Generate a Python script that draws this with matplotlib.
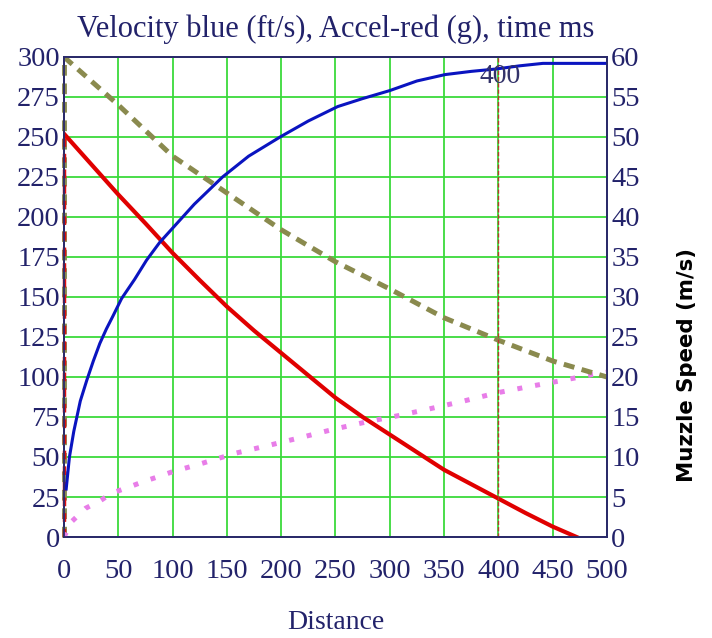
import numpy as np
import matplotlib
matplotlib.use("Agg")
import matplotlib.pyplot as plt
import matplotlib.ticker as plticker

# values
vel_x = [2, 5, 9, 15, 21, 27, 33, 39, 45, 53, 65, 76, 88, 100, 120, 146, 170, 199,
         225, 252, 275, 300, 325, 351, 375, 398, 420, 441, 470, 500]
vel_y = [30, 50, 66, 85, 98, 110, 121, 130, 138, 149, 161, 173, 184, 193, 208, 225,
         238, 250, 260, 269, 274, 279, 285, 289, 291, 292.5, 294.5, 296, 296, 296]

acc_x = [0, 25, 50, 75, 100, 125, 150, 175, 200, 225, 250, 275, 300, 325, 350, 375,
         400, 425, 450, 472]
acc_y = [252, 233, 214, 196, 177.5, 160.5, 144, 129, 115, 101, 87, 75, 64, 53, 42, 33,
         24, 15, 6.5, 0]

speed_x = [0, 50, 100, 150, 200, 250, 300, 350, 400, 450, 500]
speed_y = [300, 270, 238, 215, 192, 172, 155, 137, 123, 110, 100]

time_x = [0, 7, 20, 33, 44, 59, 73, 86, 100, 127, 158, 190, 220, 248, 279, 309,
          336, 367, 398, 428, 457, 487, 500]
time_y = [0, 9.6, 18, 22.5, 27.4, 31, 34.6, 37.5, 40.8, 46, 52.4, 57.5, 62.5, 67.3,
          72, 76, 80, 84.8, 90, 94, 97.6, 101.6, 103]

MARKER_X = 400
MARKER_LABEL = "400"

NAVY = "#22226a"
SERIF = ["Liberation Serif", "DejaVu Serif"]
OLIVE = "#8a8a4e"

fig = plt.figure(figsize=(7.12, 6.38), dpi=100)
ax = fig.add_axes([0.0899, 0.1583, 0.7626, 0.7524])
ax2 = ax.twinx()

ax.set_xlim(0, 500)
ax.set_ylim(0, 300)
ax2.set_ylim(0, 60)
ax.xaxis.set_major_locator(plticker.MultipleLocator(50))
ax.yaxis.set_major_locator(plticker.MultipleLocator(25))
ax2.yaxis.set_major_locator(plticker.MultipleLocator(5))

ax.grid(True, color="#3ada3a", linewidth=1.3)
ax.set_axisbelow(True)

# vertical dashed lines on the left edge
ax.plot([0, 0], [0, speed_y[0]], color=OLIVE, linewidth=3.5, linestyle=(0, (2.2, 1.6)),
        clip_on=False, zorder=3)
ax.plot([0, 0], [0, acc_y[0]], color="#e01010", linewidth=2.5, linestyle=(0, (2.5, 2)),
        clip_on=False, zorder=3)

ax.plot(time_x, time_y, color="#e87de8", linewidth=3.6, linestyle=(0, (1, 2.6)),
        dash_capstyle="butt", zorder=3)
ax.plot(speed_x, speed_y, color=OLIVE, linewidth=3.6, linestyle=(0, (2.2, 1.5)),
        zorder=3)
ax.plot(acc_x, acc_y, color="#e00000", linewidth=3, zorder=4)
ax.plot(vel_x, vel_y, color="#0a14c0", linewidth=2.2, zorder=5)

ax.axvline(MARKER_X, color="#b83a2a", linewidth=1, linestyle=(0, (3, 1.5)), zorder=4)
ax.text(MARKER_X + 2, 288, MARKER_LABEL, ha="center", va="center", color="#33336a",
        fontsize=20, family=SERIF, zorder=6)

for a in (ax, ax2):
    a.tick_params(length=0, labelsize=20.5, labelcolor=NAVY)
    for s in a.spines.values():
        s.set_color("#2a2a6a")
        s.set_linewidth(1.3)
    for lab in a.get_yticklabels() + a.get_xticklabels():
        lab.set_family(SERIF)
ax.tick_params(axis="y", pad=3)
ax.tick_params(axis="x", pad=16)
ax2.tick_params(axis="y", pad=3)

fig.text(0.4712, 0.954, "Velocity blue (ft/s), Accel-red (g), time ms", fontsize=22,
         color=NAVY, family=SERIF, ha="center", va="center")
ax.set_xlabel("Distance", fontsize=20, color=NAVY, family=SERIF, va="center")
ax.xaxis.set_label_coords(0.5, -0.179)
ax2.set_ylabel("Muzzle Speed (m/s)", fontsize=15.3, fontweight="bold", color="black",
               family=["DejaVu Sans"], va="center")
ax2.yaxis.set_label_coords(1.147, 0.358)

fig.savefig("out.png", dpi=100)
